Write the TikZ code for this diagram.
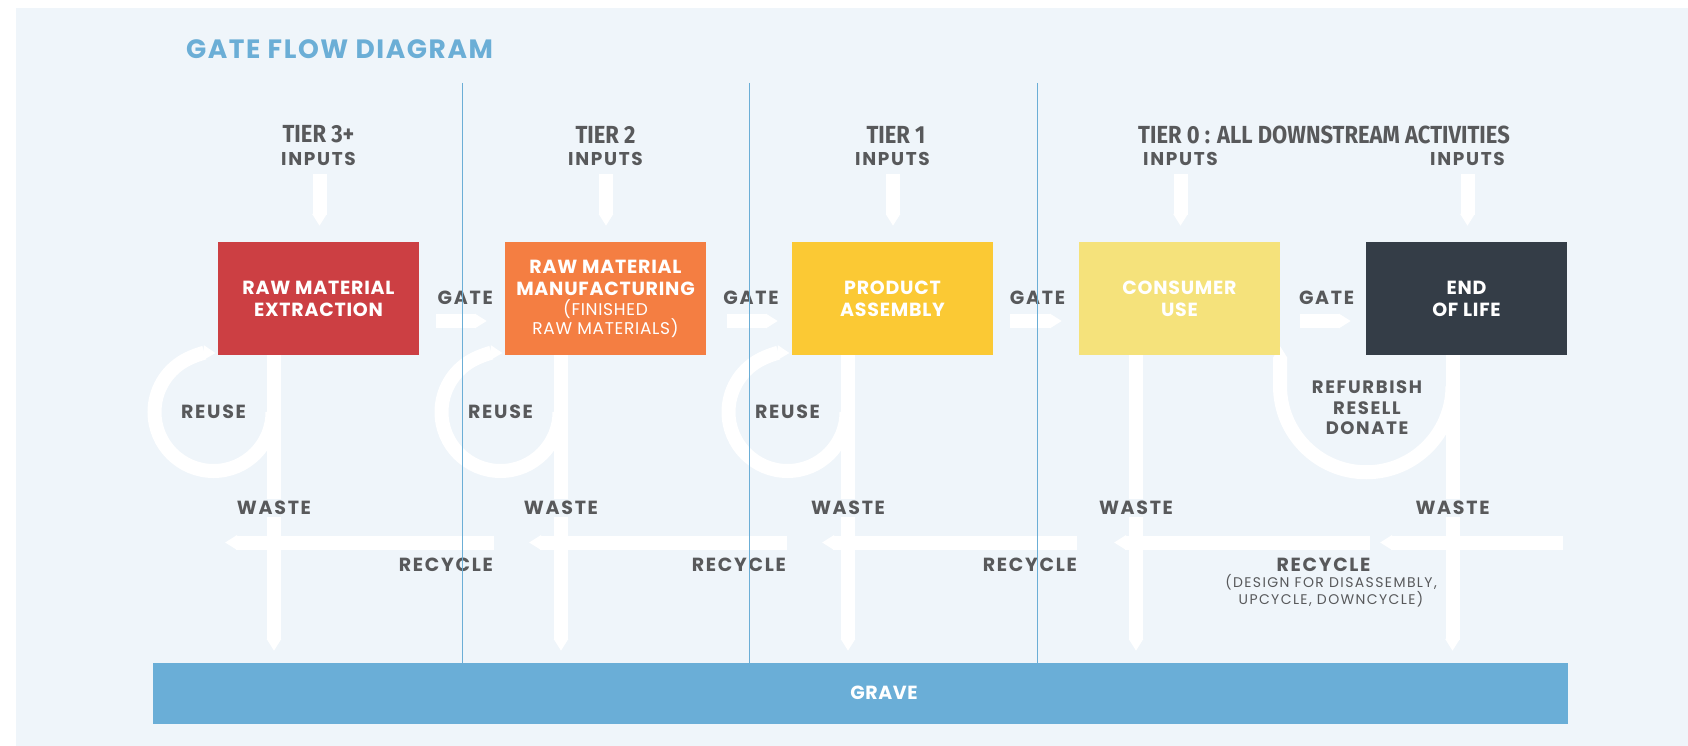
\documentclass[tikz,border=0pt]{standalone}
\usepackage{fontspec}
\setmainfont{Poppins}
\newfontfamily\tierfont[FakeStretch=0.89]{Fira Sans}
\usetikzlibrary{arrows.meta}
\definecolor{bgblue}{HTML}{EFF5FA}
\definecolor{sepblue}{HTML}{6BAED6}
\definecolor{graveblue}{HTML}{6AAED7}
\definecolor{redbox}{HTML}{CC3F43}
\definecolor{orangebox}{HTML}{F47E42}
\definecolor{yellowbox}{HTML}{FBC934}
\definecolor{paleyellow}{HTML}{F5E27B}
\definecolor{darkbox}{HTML}{343D47}
\definecolor{labelgray}{HTML}{58595B}
\newcommand\subtxt[1]{{\fontsize{17}{19}\selectfont\mdseries #1}}
\pgfdeclarelayer{back}
\pgfdeclarelayer{flow}
\pgfsetlayers{back,flow,main}
\tikzset{
  stage/.style={minimum width=201pt, minimum height=113pt, inner sep=0pt, text=white,
    font=\fontsize{19}{22}\selectfont\bfseries\addfontfeature{LetterSpace=4}, align=center},
  lbl/.style={text=labelgray, inner sep=0pt, align=center,
    font=\fontsize{19}{21}\selectfont\bfseries\addfontfeature{LetterSpace=9}},
  inlbl/.style={lbl, font=\fontsize{18.5}{21}\selectfont\bfseries\addfontfeature{LetterSpace=9}},
  smalllbl/.style={text=labelgray, inner sep=0pt, align=center,
    font=\fontsize{14}{14}\selectfont\addfontfeature{LetterSpace=10}},
  tierlbl/.style={text=labelgray, inner sep=0pt, font=\tierfont\fontsize{24.7}{26}\selectfont\bfseries},
  wastelbl/.style={lbl, fill=bgblue, inner xsep=1pt, inner ysep=2pt},
  flowline/.style={draw=white, line width=14pt},
  flowarrow/.style={flowline, -{Triangle[length=12pt,width=14pt]}},
  sepline/.style={draw=sepblue, line width=1pt},
}
\begin{document}
\begin{tikzpicture}[x=1pt,y=-1pt]
\useasboundingbox (0,0) rectangle (1688,746);
\begin{pgfonlayer}{back}
  \fill[bgblue] (16,8) rectangle (1688,746);
\end{pgfonlayer}

% title
\node[text=sepblue, inner sep=0pt, font=\fontsize{26.5}{28}\selectfont\bfseries\addfontfeature{LetterSpace=6}] (title) at (339.5,49) {GATE FLOW DIAGRAM};

% tier labels
\node[tierlbl] (t3) at (318.5,134.5) {TIER 3+};
\node[tierlbl] (t2) at (605.5,134.5) {TIER 2};
\node[tierlbl] (t1) at (896,134.5) {TIER 1};
\node[tierlbl] (t0) at (1324,134.5) {TIER 0 : ALL DOWNSTREAM ACTIVITIES};
\node[inlbl] (i1) at (318.5,158.5) {INPUTS};
\node[inlbl] (i2) at (605.5,158.5) {INPUTS};
\node[inlbl] (i3) at (892.5,158.5) {INPUTS};
\node[inlbl] (i4) at (1180.5,158.5) {INPUTS};
\node[inlbl] (i5) at (1467.5,158.5) {INPUTS};

% stages
\node[stage, fill=redbox] (b1) at (318.5,298.5) {RAW MATERIAL\\EXTRACTION};
\node[stage, fill=orangebox] (b2) at (605.5,298.5) {RAW MATERIAL\\MANUFACTURING\\[-2pt]\subtxt{(FINISHED}\\[-3pt]\subtxt{RAW MATERIALS)}};
\node[stage, fill=yellowbox] (b3) at (892.5,298.5) {PRODUCT\\ASSEMBLY};
\node[stage, fill=paleyellow] (b4) at (1179.5,298.5) {CONSUMER\\USE};
\node[stage, fill=darkbox] (b5) at (1466.5,298.5) {END\\OF LIFE};

% grave
\node[fill=graveblue, minimum width=1415pt, minimum height=61pt, inner sep=0pt] (grave) at (860.5,693.5) {};
\node[text=white, inner sep=0pt, font=\fontsize{19}{21}\selectfont\bfseries\addfontfeature{LetterSpace=3}] (gravetxt) at (884,693) {GRAVE};

% coordinates
\coordinate (in1) at (319.5,174);
\coordinate (in2) at (606,174);
\coordinate (in3) at (893,174);
\coordinate (in4) at (1180.5,174);
\coordinate (in5) at (1467.5,174);
\coordinate (w1) at (274,0);
\coordinate (w2) at (561,0);
\coordinate (w3) at (848,0);
\coordinate (w4) at (1136,0);
\coordinate (w5) at (1452.5,0);
\coordinate (c1) at (213.5,412);
\coordinate (c2) at (500.5,412);
\coordinate (c3) at (787.5,412);
\coordinate (cu) at (1366.25,386);
\coordinate (r1a) at (494,542.5);   \coordinate (r1b) at (225,542.5);
\coordinate (r2a) at (787,542.5);   \coordinate (r2b) at (529,542.5);
\coordinate (r3a) at (1077,542.5);  \coordinate (r3b) at (822,542.5);
\coordinate (r4a) at (1370,542.5);  \coordinate (r4b) at (1114,542.5);
\coordinate (r5a) at (1563,542.5);  \coordinate (r5b) at (1380,542.5);

\begin{pgfonlayer}{flow}
  % inputs
  \foreach \i in {1,...,5}{
    \draw[flowarrow] (in\i) -- ([yshift=16pt]in\i |- b\i.north);
  }
  % gates
  \draw[flowarrow, shorten <=17pt, shorten >=18pt] ([yshift=-22.5pt]b1.east) -- ([yshift=-22.5pt]b2.west);
  \draw[flowarrow, shorten <=21pt, shorten >=14pt] ([yshift=-22.5pt]b2.east) -- ([yshift=-22.5pt]b3.west);
  \draw[flowarrow, shorten <=17pt, shorten >=17pt] ([yshift=-22.5pt]b3.east) -- ([yshift=-22.5pt]b4.west);
  \draw[flowarrow, shorten <=20pt, shorten >=15pt] ([yshift=-22.5pt]b4.east) -- ([yshift=-22.5pt]b5.west);
  % waste
  \foreach \i in {1,...,5}{
    \draw[flowarrow, shorten >=12pt] (b\i.south -| w\i) -- (grave.north -| w\i);
  }
  % reuse
  \foreach \i in {1,2,3}{
    \draw[flowarrow] ([xshift=59pt]c\i) arc[start angle=0, end angle=-272, radius=59pt];
  }
  % refurbish
  \draw[flowarrow] ([xshift=86.25pt]cu) arc[start angle=0, end angle=-180, radius=86.25pt] -- ([yshift=9pt]b4.south east);
  % recycle
  \foreach \i in {1,...,5}{
    \draw[flowarrow] (r\i a) -- (r\i b);
  }
\end{pgfonlayer}

% gate labels
\node[lbl] (g1) at (465.3,297.7) {GATE};
\node[lbl] (g2) at (751,297.7) {GATE};
\node[lbl] (g3) at (1037.5,297.7) {GATE};
\node[lbl] (g4) at (1326.6,297.7) {GATE};

% reuse labels
\node[lbl] (u1) at (c1) {REUSE};
\node[lbl] (u2) at (c2) {REUSE};
\node[lbl] (u3) at (c3) {REUSE};
\node[lbl, font=\fontsize{18}{20.5}\selectfont\bfseries\addfontfeature{LetterSpace=9}] (refurb) at (1367,408) {REFURBISH\\RESELL\\DONATE};

% waste labels
\foreach \i in {1,...,5}{
  \node[wastelbl] (wl\i) at (w\i |- 0,508) {WASTE};
}

% recycle labels
\node[lbl, anchor=east] (rl1) at (493,564.3) {RECYCLE};
\node[lbl, anchor=east] (rl2) at (786,564.3) {RECYCLE};
\node[lbl, anchor=east] (rl3) at (1077,564.3) {RECYCLE};
\node[lbl] (rl4) at (1323.5,564.3) {RECYCLE};
\node[smalllbl] (rl4s) at (1331,591) {(DESIGN FOR DISASSEMBLY,\\UPCYCLE, DOWNCYCLE)};

% separators
\draw[sepline] (462.5,83) -- (462.5,663);
\draw[sepline] (749.5,83) -- (749.5,663);
\draw[sepline] (1037,83) -- (1037,663);
\end{tikzpicture}
\end{document}
